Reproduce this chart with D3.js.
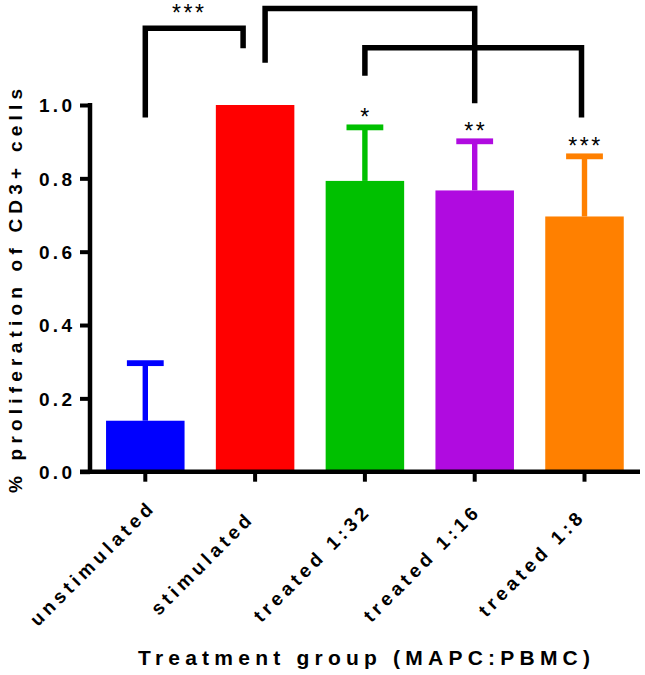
<!DOCTYPE html>
<html>
<head>
<meta charset="utf-8">
<script src="https://cdn.jsdelivr.net/npm/d3@7"></script>
<style>
  html, body { margin: 0; padding: 0; background: #fff; }
  svg { display: block; }
  text { font-family: "Liberation Sans", Arial, sans-serif; fill: #000; }
</style>
</head>
<body>
<svg id="chart" width="645" height="675"></svg>
<script>
// ---- data ----
const categories = ["unstimulated", "stimulated", "treated 1:32", "treated 1:16", "treated 1:8"];
const means      = [0.139, 1.0, 0.793, 0.767, 0.696];
const errors     = [0.157, 0.0, 0.146, 0.134, 0.164];
const colors     = ["#0000ff", "#ff0000", "#00c000", "#b00be0", "#ff8000"];
const barStars   = ["", "", "*", "**", "***"];
const yTicks     = [0, 0.2, 0.4, 0.6, 0.8, 1.0];
// significance brackets: from category, to category, bar level, drop ends
const bracketFrom  = [0, 1, 2];
const bracketTo    = [1, 3, 4];
const bracketLevel = [1.209, 1.263, 1.156];
const bracketDropA = [0.966, 1.115, 1.080];
const bracketDropB = [1.155, 1.005, 0.966];
const bracketStars = ["***", "", ""];
const yTitle = "% proliferation of CD3+ cells";
const xTitle = "Treatment group (MAPC:PBMC)";

// ---- layout ----
const svg = d3.select("#chart");
const y = d3.scaleLinear().domain([0, 1]).range([471.7, 105]);
const x = d3.scaleBand().domain(categories).range([90.4, 639.4])
  .paddingInner(0.285).paddingOuter(0.1425);
const cx = i => x(categories[i]) + x.bandwidth() / 2;
const AXW = 4.5;
const STAR_FS = 23;

// bars
svg.append("g").selectAll("rect").data(categories).join("rect")
  .attr("x", d => x(d))
  .attr("y", (d, i) => y(means[i]))
  .attr("width", x.bandwidth())
  .attr("height", (d, i) => y(0) - y(means[i]))
  .attr("fill", (d, i) => colors[i]);

// error bars (upper only)
const eg = svg.append("g");
categories.forEach((c, i) => {
  if (errors[i] <= 0) return;
  const top = y(means[i] + errors[i]);
  eg.append("rect")
    .attr("x", cx(i) - 2.7).attr("width", 5.4)
    .attr("y", top).attr("height", y(means[i]) - top)
    .attr("fill", colors[i]);
  eg.append("rect")
    .attr("x", cx(i) - 18.4).attr("width", 36.8)
    .attr("y", top - 2.9).attr("height", 5.8)
    .attr("fill", colors[i]);
  if (barStars[i]) {
    eg.append("text")
      .attr("x", cx(i) + 1).attr("y", top - 2)
      .attr("text-anchor", "middle")
      .attr("font-size", STAR_FS)
      .attr("letter-spacing", 2.5)
      .text(barStars[i]);
  }
});

// brackets
const bg = svg.append("g");
const fromDx = [0, 10, 0];
const toDx = [-12, 0, -3];
bracketFrom.forEach((f, k) => {
  const x1 = cx(f) + fromDx[k], x2 = cx(bracketTo[k]) + toDx[k];
  const p = d3.path();
  p.moveTo(x1, y(bracketDropA[k]));
  p.lineTo(x1, y(bracketLevel[k]));
  p.lineTo(x2, y(bracketLevel[k]));
  p.lineTo(x2, y(bracketDropB[k]));
  bg.append("path").attr("d", p.toString())
    .attr("fill", "none").attr("stroke", "#000")
    .attr("stroke-width", 5.5).attr("stroke-linejoin", "miter");
  if (bracketStars[k]) {
    bg.append("text")
      .attr("x", (x1 + x2) / 2 - 5).attr("y", y(bracketLevel[k]) - 7.3)
      .attr("text-anchor", "middle")
      .attr("font-size", STAR_FS)
      .attr("letter-spacing", 2.5)
      .text(bracketStars[k]);
  }
});

// y axis
const ya = svg.append("g").attr("transform", "translate(90,0)")
  .call(d3.axisLeft(y).tickValues(yTicks).tickFormat(d3.format(".1f")).tickSize(10).tickSizeOuter(0).tickPadding(0));
ya.select(".domain").remove();
ya.selectAll(".tick line").attr("stroke", "#000").attr("stroke-width", 4);
ya.selectAll(".tick text")
  .attr("x", -18).attr("dy", "0.36em")
  .attr("font-size", 19).attr("font-weight", "bold")
  .attr("textLength", 33).attr("lengthAdjust", "spacing");
svg.append("line").attr("x1", 90).attr("x2", 90)
  .attr("y1", y(0) + 2).attr("y2", y(1) - 2)
  .attr("stroke", "#000").attr("stroke-width", AXW);

// x axis
const xa = svg.append("g").attr("transform", `translate(0,${y(0)})`)
  .call(d3.axisBottom(x).tickSize(10).tickSizeOuter(0));
xa.select(".domain").remove();
xa.selectAll(".tick line").attr("stroke", "#000").attr("stroke-width", 4);
xa.selectAll(".tick text")
  .attr("text-anchor", "middle")
  .attr("font-size", 19).attr("font-weight", "bold")
  .attr("letter-spacing", 4.2)
  .attr("y", 0).attr("dy", 0)
  .attr("transform", "translate(-48,96) rotate(-45)");
svg.append("line").attr("x1", 80).attr("x2", 640)
  .attr("y1", y(0)).attr("y2", y(0))
  .attr("stroke", "#000").attr("stroke-width", AXW);

// titles
svg.append("text")
  .attr("transform", "translate(22,291) rotate(-90)")
  .attr("text-anchor", "middle")
  .attr("font-size", 19).attr("font-weight", "bold")
  .attr("textLength", 404).attr("lengthAdjust", "spacing")
  .text(yTitle);
svg.append("text")
  .attr("x", 364).attr("y", 665)
  .attr("text-anchor", "middle")
  .attr("font-size", 21).attr("font-weight", "bold")
  .attr("textLength", 452).attr("lengthAdjust", "spacing")
  .text(xTitle);
</script>
</body>
</html>
